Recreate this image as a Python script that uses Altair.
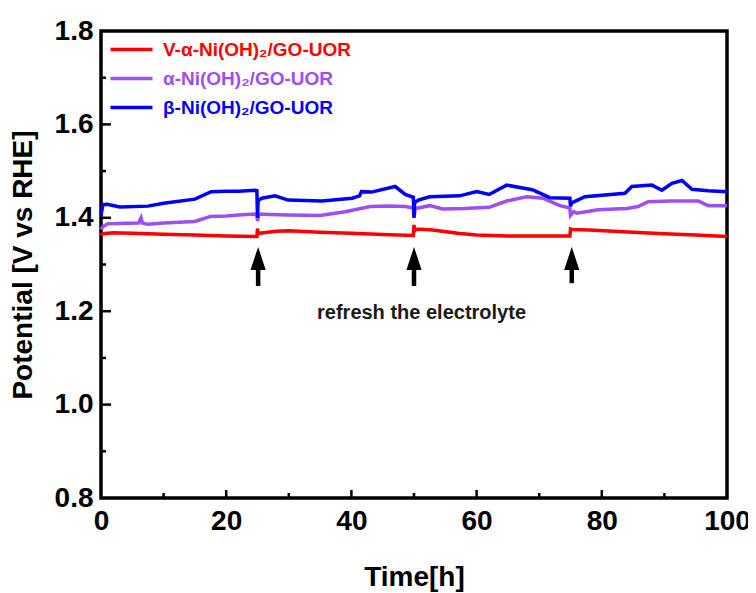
import altair as alt
import pandas as pd

# ---------------- data ----------------
series_names = ["V-α-Ni(OH)₂/GO-UOR", "α-Ni(OH)₂/GO-UOR", "β-Ni(OH)₂/GO-UOR"]
series_colors = ["#FF0000", "#9D4EF5", "#0000FF"]

red_t = [0, 0.3, 2, 5, 10, 15, 20, 24.9, 25.0, 25.1, 25.3, 28, 30, 35, 40, 45, 49.9,
         50.0, 50.1, 50.4, 53, 57, 60, 65, 70, 74.9, 75.0, 75.3, 78, 85, 90, 95, 100]
red_v = [1.362, 1.366, 1.368, 1.367, 1.365, 1.363, 1.361, 1.360, 1.377, 1.365, 1.367, 1.371,
         1.372, 1.369, 1.367, 1.364, 1.362, 1.385, 1.372, 1.376, 1.374, 1.367, 1.363, 1.361,
         1.361, 1.361, 1.376, 1.375, 1.374, 1.369, 1.366, 1.363, 1.360]

purple_t = [0, 0.3, 1, 3, 6, 6.4, 6.6, 7.5, 10, 15, 17.5, 20, 22, 24.6, 24.9, 25.0, 25.2,
            27, 30, 35, 39, 43, 46, 48.6, 49.9, 50.0, 50.2, 52.5, 54.6, 58, 62, 64.8, 68,
            70.6, 73.3, 74.9, 75.0, 75.5, 76, 79.4, 84, 85.8, 87.4, 91, 95.4, 97, 100]
purple_v = [1.375, 1.381, 1.387, 1.388, 1.389, 1.400, 1.389, 1.386, 1.389, 1.392, 1.403,
            1.404, 1.406, 1.408, 1.407, 1.393, 1.408, 1.407, 1.406, 1.405, 1.413, 1.424,
            1.425, 1.424, 1.421, 1.400, 1.420, 1.426, 1.419, 1.420, 1.4225, 1.436, 1.445,
            1.442, 1.426, 1.421, 1.405, 1.413, 1.410, 1.417, 1.420, 1.424, 1.4345, 1.436,
            1.436, 1.426, 1.426]

blue_t = [0, 0.3, 1, 3, 7.5, 10, 15, 17.6, 20, 22, 24.6, 24.9, 25.0, 25.1, 25.7, 27.8,
          29.9, 35.3, 40.1, 41.3, 41.6, 43.2, 47, 48.6, 49.9, 50.0, 50.1, 50.7, 52.5, 57.3,
          60, 62, 64.8, 68.9, 71.7, 74.9, 75.0, 75.2, 77.3, 83.7, 84.8, 88, 89.6, 91.2,
          92.8, 94.4, 97, 100]
blue_v = [1.405, 1.428, 1.429, 1.423, 1.425, 1.431, 1.440, 1.456, 1.457, 1.457, 1.459,
          1.458, 1.400, 1.437, 1.442, 1.447, 1.438, 1.436, 1.442, 1.447, 1.456, 1.455,
          1.467, 1.450, 1.444, 1.400, 1.432, 1.438, 1.445, 1.447, 1.456, 1.450, 1.470,
          1.460, 1.443, 1.442, 1.425, 1.432, 1.445, 1.4525, 1.467, 1.470, 1.459, 1.474,
          1.480, 1.461, 1.458, 1.456]

arrow_t = [25.1, 50.0, 75.2]
arrow_head = [1.313, 1.313, 1.313]
arrow_base = [1.292, 1.292, 1.292]
arrow_tail = [1.254, 1.254, 1.260]

note_text = "refresh the electrolyte"
note_t = 51.2
note_v = 1.197

x_major = [20, 40, 60, 80]
x_minor = [10, 30, 50, 70, 90]
y_major = [1.0, 1.2, 1.4, 1.6]
y_minor = [0.9, 1.1, 1.3, 1.5, 1.7]
x_labels = [0, 20, 40, 60, 80, 100]
y_labels = [0.8, 1.0, 1.2, 1.4, 1.6, 1.8]

# ---------------- tables ----------------
frames = []
for name, ts, vs in zip(series_names, [red_t, purple_t, blue_t], [red_v, purple_v, blue_v]):
    frames.append(pd.DataFrame({"t": ts, "v": vs, "series": name, "idx": range(len(ts))}))
df = pd.concat(frames, ignore_index=True)

arrows = pd.DataFrame({"t": arrow_t, "head": arrow_head, "base": arrow_base, "tail": arrow_tail})
note = pd.DataFrame({"t": [note_t], "v": [note_v], "label": [note_text]})

FONT = "Liberation Sans"
W, H = 626, 467

xscale = alt.Scale(domain=[0, 100], nice=False, zero=False)
yscale = alt.Scale(domain=[0.8, 1.8], nice=False, zero=False)

xaxis = alt.Axis(values=x_labels, title="Time[h]", grid=False, ticks=False, domain=False,
                 labelFont=FONT, labelFontWeight="bold", labelFontSize=28, labelColor="black",
                 labelPadding=9, labelFlush=False, labelOverlap=False,
                 titleFont=FONT, titleFontWeight="bold", titleFontSize=28, titleColor="black",
                 titlePadding=28)
yaxis = alt.Axis(values=y_labels, title="Potential [V vs RHE]", format=".1f", grid=False,
                 ticks=False, domain=False,
                 labelFont=FONT, labelFontWeight="bold", labelFontSize=28, labelColor="black",
                 labelPadding=8, labelFlush=False, labelOverlap=False,
                 titleFont=FONT, titleFontWeight="bold", titleFontSize=28, titleColor="black",
                 titlePadding=17)

lines = alt.Chart(df).mark_line(strokeWidth=3.5).encode(
    x=alt.X("t:Q", scale=xscale, axis=xaxis),
    y=alt.Y("v:Q", scale=yscale, axis=yaxis),
    color=alt.Color("series:N",
                    scale=alt.Scale(domain=series_names, range=series_colors),
                    legend=alt.Legend(orient="none", legendX=21, legendY=9, title=None,
                                      symbolType="M-3,0L3,0", symbolSize=196,
                                      symbolStrokeWidth=3.5, labelFont=FONT,
                                      labelFontWeight="bold", labelFontSize=19,
                                      labelLimit=0,
                                      labelColor={"expr": "scale('color', datum.value)"},
                                      labelOffset=22, padding=0, rowPadding=9)),
    order=alt.Order("idx:Q"),
)

def xticks(vals, length):
    return alt.Chart(pd.DataFrame({"t": vals})).mark_rule(color="black", strokeWidth=2.5).encode(
        x=alt.X("t:Q", scale=xscale), y=alt.value(H), y2=alt.value(H - length))

def yticks(vals, length):
    return alt.Chart(pd.DataFrame({"v": vals})).mark_rule(color="black", strokeWidth=2.5).encode(
        y=alt.Y("v:Q", scale=yscale), x=alt.value(0), x2=alt.value(length))

shafts = alt.Chart(arrows).mark_rule(color="black", strokeWidth=4.5).encode(
    x="t:Q", y="base:Q", y2="tail:Q")
heads = alt.Chart(arrows).mark_point(shape="M0,-1L-0.66,1L0.66,1Z", filled=True,
                                     color="black", opacity=1, size=529).encode(
    x="t:Q", y="head:Q")
text = alt.Chart(note).mark_text(font=FONT, fontWeight="bold", fontSize=20,
                                 color="#1a1a1a").encode(
    x="t:Q", y="v:Q", text="label:N")

chart = alt.layer(
    xticks(x_major, 8), xticks(x_minor, 5), yticks(y_major, 10), yticks(y_minor, 5),
    lines, shafts, heads, text,
).properties(
    width=W, height=H,
    padding={"left": 93, "top": 23, "right": 21, "bottom": 95},
    autosize=alt.AutoSizeParams(type="none"),
).configure_view(stroke="black", strokeWidth=3.5)

chart.save("out.html", embed_options={"renderer": "svg", "actions": False})
